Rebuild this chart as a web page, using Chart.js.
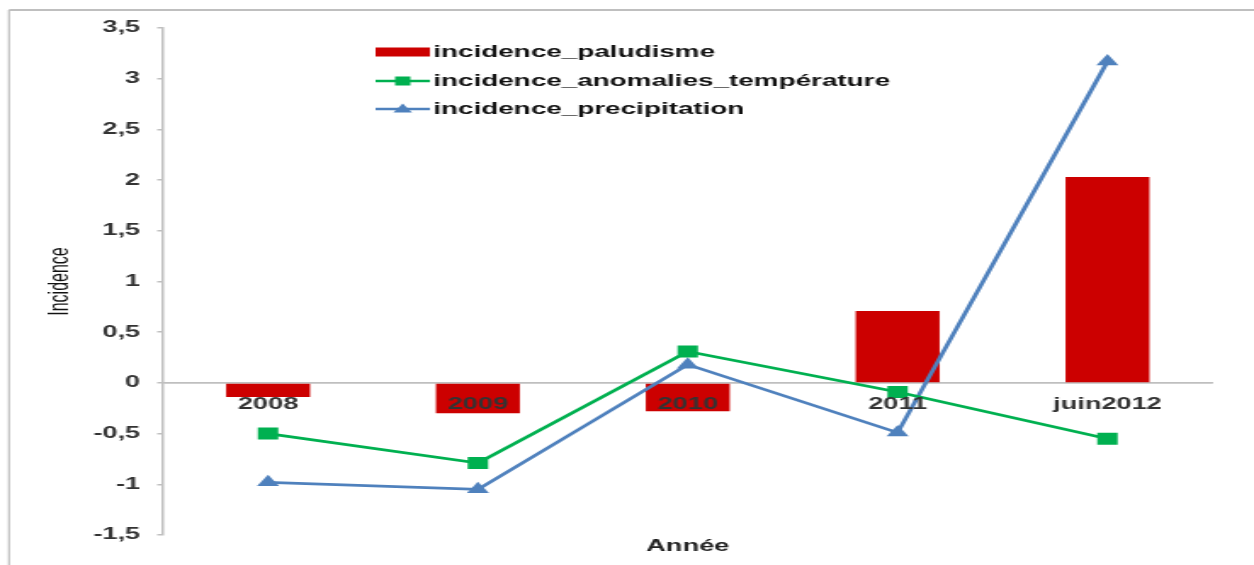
<!DOCTYPE html>
<html>
<head>
<meta charset="utf-8">
<script src="https://cdn.jsdelivr.net/npm/chart.js@4.4.1/dist/chart.umd.min.js"></script>
<style>
  html, body { margin: 0; padding: 0; background: #fff; overflow: hidden; }
  /* the original picture is stretched sideways, so the chart is drawn narrow and widened */
  #wrap { position: absolute; left: 0; top: 0; width: 738px; height: 565px;
          transform: scaleX(1.6992); transform-origin: 0 0; }
</style>
</head>
<body>
<div id="wrap"><canvas id="chart" width="738" height="565"></canvas></div>
<script>
// values
var annees = ["2008", "2009", "2010", "2011", "juin2012"];
var incidence_paludisme = [-0.14, -0.30, -0.28, 0.71, 2.03];
var incidence_temperature = [-0.50, -0.79, 0.31, -0.09, -0.55];
var incidence_precipitation = [-0.98, -1.05, 0.18, -0.49, 3.17];
var noms_series = ["incidence_paludisme", "incidence_anomalies_température", "incidence_precipitation"];
var couleurs = ["#cc0000", "#00b050", "#4f81bd"];

var police = "'Liberation Sans', Arial, sans-serif";
var gris = "#bfbfbf";

// grey frame on the top and left edges of the picture
var cadrePlugin = {
  id: 'cadre',
  beforeDraw: function(chart) {
    var ctx = chart.ctx;
    ctx.save();
    ctx.strokeStyle = gris;
    ctx.lineWidth = 2;
    ctx.beginPath();
    ctx.moveTo(5.3, 10);
    ctx.lineTo(chart.width, 10);
    ctx.stroke();
    ctx.lineWidth = 1.2;
    ctx.beginPath();
    ctx.moveTo(5.3, 10);
    ctx.lineTo(5.3, chart.height);
    ctx.stroke();
    ctx.restore();
  }
};

// legend inside the plot, Excel style (line + marker)
var legendePlugin = {
  id: 'legende',
  afterDraw: function(chart) {
    var ctx = chart.ctx;
    var x0 = 221, x1 = 253, xm = (x0 + x1) / 2, xt = 255;
    var rows = [52, 81, 109];
    ctx.save();

    ctx.fillStyle = couleurs[0];
    ctx.fillRect(x0, rows[0] - 4.5, x1 - x0, 9);

    ctx.strokeStyle = couleurs[1];
    ctx.lineWidth = 2.5;
    ctx.beginPath(); ctx.moveTo(x0, rows[1]); ctx.lineTo(x1, rows[1]); ctx.stroke();
    ctx.fillStyle = couleurs[1];
    ctx.fillRect(xm - 4.5, rows[1] - 4.5, 9, 9);

    ctx.strokeStyle = couleurs[2];
    ctx.beginPath(); ctx.moveTo(x0, rows[2]); ctx.lineTo(x1, rows[2]); ctx.stroke();
    ctx.fillStyle = couleurs[2];
    ctx.beginPath();
    ctx.moveTo(xm, rows[2] - 5.5);
    ctx.lineTo(xm + 5.5, rows[2] + 3.5);
    ctx.lineTo(xm - 5.5, rows[2] + 3.5);
    ctx.closePath();
    ctx.fill();

    ctx.font = "bold 16.4px " + police;
    ctx.fillStyle = "#111";
    ctx.textBaseline = "middle";
    for (var i = 0; i < noms_series.length; i++) {
      ctx.fillText(noms_series[i], xt, rows[i]);
    }
    ctx.restore();
  }
};

function virgule(v) {
  return String(Math.round(v * 10) / 10).replace('.', ',');
}

new Chart(document.getElementById('chart'), {
  type: 'bar',
  data: {
    labels: annees,
    datasets: [
      {
        type: 'line',
        label: noms_series[1],
        data: incidence_temperature,
        borderColor: couleurs[1],
        backgroundColor: couleurs[1],
        borderWidth: 2.75,
        pointStyle: 'rect',
        pointRadius: 8.5,
        pointBorderWidth: 0,
        tension: 0,
        order: 1
      },
      {
        type: 'line',
        label: noms_series[2],
        data: incidence_precipitation,
        borderColor: couleurs[2],
        backgroundColor: couleurs[2],
        borderWidth: 2.75,
        pointStyle: 'triangle',
        pointRadius: 7.5,
        pointBorderWidth: 0,
        tension: 0,
        order: 2
      },
      {
        type: 'bar',
        label: noms_series[0],
        data: incidence_paludisme,
        backgroundColor: couleurs[0],
        barPercentage: 0.4,
        categoryPercentage: 1.0,
        order: 3
      }
    ]
  },
  options: {
    responsive: false,
    devicePixelRatio: 1,
    animation: false,
    layout: { padding: { left: 0, right: 24.5, top: 28, bottom: 0 } },
    plugins: {
      legend: { display: false },
      tooltip: { enabled: false }
    },
    scales: {
      x: {
        type: 'category',
        position: { y: 0 },
        grid: { display: true, drawOnChartArea: false, drawTicks: false },
        border: { display: true, color: gris, width: 1.5 },
        ticks: {
          z: 1,
          padding: 12,
          color: '#333',
          maxRotation: 0,
          autoSkip: false,
          font: { family: police, size: 16, weight: 'bold' }
        },
        afterFit: function(s) { s.height = 0; }
      },
      x2: {
        type: 'category',
        labels: annees,
        position: 'bottom',
        grid: { display: false },
        border: { display: false },
        ticks: { display: false },
        title: {
          display: true,
          text: 'Année',
          color: '#222',
          font: { family: police, size: 16, weight: 'bold' },
          padding: { top: 0, bottom: 8.4 }
        },
        afterFit: function(s) { s.height = 30; }
      },
      y: {
        min: -1.5,
        max: 3.5,
        ticks: {
          stepSize: 0.5,
          padding: 10,
          color: '#333',
          font: { family: police, size: 16, weight: 'bold' },
          callback: function(v) { return virgule(v); }
        },
        grid: {
          color: function(c) { return (c.tick && c.tick.value === 0) ? gris : 'rgba(0,0,0,0)'; },
          lineWidth: 1.5,
          tickLength: 3.5,
          tickColor: gris
        },
        border: { display: true, color: gris, width: 1.5 },
        title: {
          display: true,
          text: 'Incidence',
          color: '#111',
          font: { family: police, size: 16 },
          padding: { top: 26, bottom: 0 }
        },
        afterFit: function(s) { s.width = 96; }
      }
    }
  },
  plugins: [cadrePlugin, legendePlugin]
});
</script>
</body>
</html>
